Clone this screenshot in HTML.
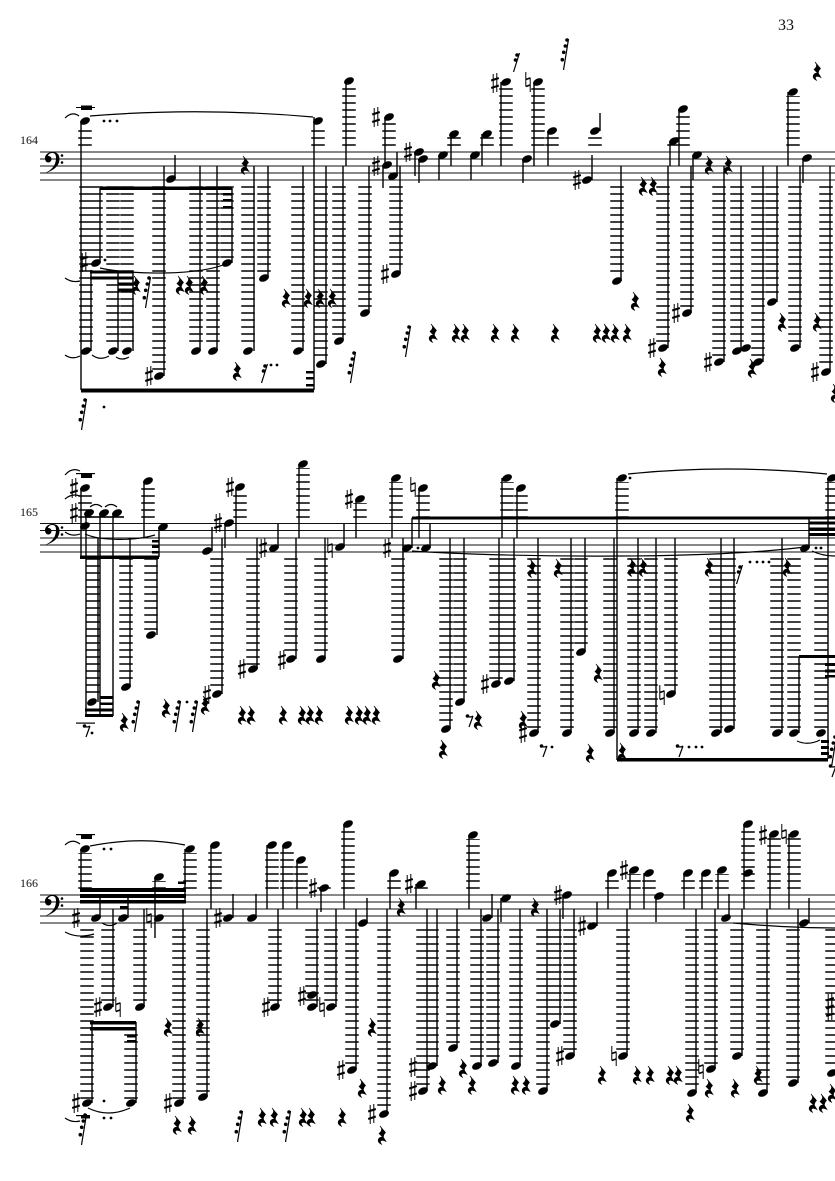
<!DOCTYPE html>
<html><head><meta charset="utf-8"><title>Score page 33</title>
<style>
html,body{margin:0;padding:0;background:#fff}
svg{display:block}
.n{font-family:"Liberation Serif",serif;fill:#111}
.st{stroke:#000;stroke-width:1.4;fill:none}
.lg{stroke:#000;stroke-width:13.5;stroke-dasharray:1.6 5.4;fill:none}
.tie{stroke:#000;stroke-width:1.2;fill:none}
.dot{stroke:#000;stroke-width:2.8;stroke-linecap:round;fill:none}
polyline{fill:none;stroke:none}
.H{marker:url(#h)}.S{marker:url(#s)}.T{marker:url(#t)}.R{marker:url(#r)}.Q{marker:url(#q)}.E{marker:url(#e)}.F{marker:url(#f)}
marker{overflow:visible}
</style></head><body>
<svg xmlns="http://www.w3.org/2000/svg" width="835" height="1181" viewBox="0 0 835 1181">
<defs>
<marker id="h" markerUnits="userSpaceOnUse" markerWidth="1" markerHeight="1"><ellipse rx="5.200" ry="3.400" transform="rotate(-25)" fill="#000"/></marker>
<marker id="s" markerUnits="userSpaceOnUse" markerWidth="1" markerHeight="1"><path d="M-1.800-9V10M1.800-10V9" stroke="#000" stroke-width="1" fill="none"/><path d="M-3.800-2.500L3.800-5M-3.800 5L3.800 2.500" stroke="#000" stroke-width="2.200" fill="none"/></marker>
<marker id="t" markerUnits="userSpaceOnUse" markerWidth="1" markerHeight="1"><path d="M-2.200-10V4.500M2.200-4.500V10" stroke="#000" stroke-width="1" fill="none"/><path d="M-2.200-2.500L2.200-4M-2.200 4.500L2.200 3" stroke="#000" stroke-width="1.600" fill="none"/></marker>
<marker id="r" markerUnits="userSpaceOnUse" markerWidth="1" markerHeight="1"><path d="M-2-9L3.500-2.500Q1 0 1.500 2.500L4 6.500Q0 4.500-1.500 6Q-2 8 0 9.500Q-5 7.500-3.500 4Q-2 1.500 1 2.500L-3-1.500Q0-4-.5-6.500Z" fill="#000" stroke="#000" stroke-width=".6"/></marker>
<marker id="q" markerUnits="userSpaceOnUse" markerWidth="1" markerHeight="1"><path d="M3.500-16L-1.500 15" stroke="#000" stroke-width="1.200" fill="none"/><circle cx="2" cy="-15" r="1.800" fill="#000"/><circle cx=".3" cy="-9" r="1.800" fill="#000"/><circle cx="-1.300" cy="-2.700" r="1.800" fill="#000"/><circle cx="-2.700" cy="4.700" r="1.800" fill="#000"/></marker>
<marker id="e" markerUnits="userSpaceOnUse" markerWidth="1" markerHeight="1"><path d="M3-4L-1 7M-3-4Q0-2 3-4" stroke="#000" stroke-width="1.200" fill="none"/><circle cx="-2.500" cy="-4" r="1.800" fill="#000"/></marker>
<marker id="f" markerUnits="userSpaceOnUse" markerWidth="1" markerHeight="1"><path d="M3.500-9L-2.500 10" stroke="#000" stroke-width="1.200" fill="none"/><circle cx="1" cy="-7" r="1.800" fill="#000"/><circle cx="-.5" cy="-2" r="1.800" fill="#000"/></marker>
<g id="c"><path d="M45 173C52 170 56 165 56 158C56 154 54.500 153 52 153C49.500 153 48 155 48 156C50 156 51.500 157 51.500 159C51.500 161 50 162.500 48.500 162.500C46.500 162.500 45 161 45 158C45 154.500 48.500 152 52.500 152C57 152 59.500 154.500 59.500 159C59.500 166 53 171 45 173Z" fill="#000"/><circle cx="62" cy="155.500" r="1.300" fill="#000"/><circle cx="62" cy="162.500" r="1.300" fill="#000"/></g>
</defs>
<rect width="835" height="1181" fill="#fff"/>
<text class="n" x="778" y="30" font-size="16">33</text>
<text class="n" x="20" y="144" font-size="12">164</text>
<text class="n" x="20" y="516" font-size="12">165</text>
<text class="n" x="20" y="887" font-size="12">166</text>

<!-- staves -->
<g fill="#111">
<rect x="40" y="151.500" width="795" height="1"/><rect x="40" y="158.500" width="795" height="1"/><rect x="40" y="165.500" width="795" height="1"/><rect x="40" y="172.500" width="795" height="1"/><rect x="40" y="179.500" width="795" height="1"/>
<rect x="40" y="523" width="795" height="1"/><rect x="40" y="530" width="795" height="1"/><rect x="40" y="537.500" width="795" height="1"/><rect x="40" y="544.500" width="795" height="1"/><rect x="40" y="551.500" width="795" height="1"/>
<rect x="40" y="894.500" width="795" height="1"/><rect x="40" y="901.500" width="795" height="1"/><rect x="40" y="908.500" width="795" height="1"/><rect x="40" y="915.500" width="795" height="1"/><rect x="40" y="922.500" width="795" height="1"/>
</g>
<use href="#c"/><use href="#c" y="372"/><use href="#c" y="743"/>

<!-- SYSTEM 1 -->
<path class="lg" d="M86 186.200V347M96 186.200V259M113 186.200V347M127 186.200V347M159 186.200V372M196 186.200V347M213 186.200V347M227 186.200V259M248 186.200V347M264 186.200V274M298 186.200V347M321 186.200V360M339 186.200V337M365 186.200V309M396 186.200V270M617 186.200V277M663 186.200V344M687 186.200V309M719 186.200V358M737 186.200V347M758 186.200V358M772 186.200V298M795 186.200V344M826 186.200V368
M85 145.800V125M318 145.800V125M349 145.800V85M389 145.800V121M454 145.800V136M487 145.800V136M506 145.800V86M538 145.800V86M552 145.800V135M595 145.800V135M674 145.800V144M683 145.800V113M793 145.800V96"/>
<path class="st" d="M81 121V390M91 270V351M100 188V263M118 272V351M133 272V351M164 166V376M175 155V179M200 166V351M217 166V351M232 188V263M254 166V351M268 166V278M303 166V351M314 117V390M326 166V364M346 81V166M343 166V341M369 166V313M385 117V166M383 165V188M397 152V176M400 166V274M415 152V176M419 159V183M439 155V180M451 134V166M471 155V180M482 134V166M501 82V166M523 159V183M534 82V166M548 131V166M600 113V131M592 155V180M621 166V281M668 166V348M670 141V166M679 109V166M693 155V180M691 166V313M724 166V362M741 166V351M763 166V362M777 166V302M788 92V166M803 158V183M800 166V348M830 166V372"/>
<g fill="#000">
<rect x="100" y="186.500" width="132" height="3.500"/><rect x="223" y="193" width="9" height="2.500"/><rect x="223" y="199" width="9" height="2.500"/><rect x="223" y="206" width="9" height="2.500"/>
<rect x="90" y="270.500" width="43" height="3"/><rect x="90" y="276.500" width="43" height="3"/><rect x="118" y="282.500" width="15" height="3"/><rect x="118" y="288.500" width="15" height="3"/>
<rect x="81" y="388.500" width="233" height="4"/><rect x="306" y="371" width="8" height="2.500"/><rect x="306" y="377" width="8" height="2.500"/><rect x="306" y="384" width="8" height="2.500"/>
<rect x="81" y="105.500" width="11" height="4.500"/><rect x="76" y="107" width="19" height="1"/>
</g>
<path class="tie" d="M65 118Q72 111 79 116M90 116Q200 107 313 117M65 278Q72 283 80 281M100 268C130 275 200 276 228 263M65 355Q72 360 80 356M92 355Q100 361 109 356M116 357Q122 361 129 357"/>
<path class="dot" d="M104 121h.01M110 121h.01M117 121h.01M105 260h.01M104 407h.01M271 365h.01M277 365h.01"/>
<polyline class="H" points="85,121 96,263 86,351 113,351 127,351 159,376 171,179 196,351 213,351 227,263 248,351 264,278 298,351 318,121 321,364 339,341 349,81 365,313 389,117 387,165 393,176 396,274 419,152 423,159 443,155 454,134 475,155 487,134 506,82 527,159 538,82 552,131 595,131 587,180 617,281 663,348 674,141 683,109 697,155 687,313 719,362 737,351 746,348 758,362 772,302 793,92 807,158 795,348 826,372"/>
<polyline class="S" points="84,262 149,376 376,117 376,166 385,274 408,152 495,83 577,180 652,348 676,313 708,362 815,372"/>
<polyline class="T" points="528,82"/>
<polyline class="R" points="245,165 237,371 136,285 180,285 189,285 204,285 286,298 308,298 320,298 332,298 433,333 456,333 465,333 495,333 515,333 555,333 597,333 606,333 615,333 627,333 635,301 643,186 653,186 662,367 709,165 728,165 752,368 782,322 817,322 817,71 835,393"/>
<polyline class="Q" points="147,293 83,415 352,368 407,342 565,55"/>
<polyline class="F" points="264,373 516,62"/>

<!-- SYSTEM 2 -->
<path class="lg" d="M93 558.200V696M126 558.200V683M151 558.200V631M217 558.200V690M253 558.200V665M291 558.200V655M321 558.200V655M398 558.200V655M446 558.200V725M460 558.200V698M496 558.200V680M509 558.200V677M534 558.200V729M567 558.200V729M581 558.200V648M610 558.200V729M634 558.200V729M651 558.200V729M671 558.200V690M716 558.200V729M729 558.200V725M777 558.200V729M794 558.200V729M821 558.200V729
M85 517.800V492M148 517.800V485M240 517.800V491M303 517.800V468M360 517.800V503M396 517.800V482M423 517.800V492M507 517.800V482M521 517.800V492M622 517.800V482M832 517.800V482"/>
<path class="st" d="M81 488V557M86 513V716M100 513V716M113 513V716M98 538V702M130 538V687M157 558V635M144 481V538M159 527V557M212 527V551M222 538V694M225 523V548M236 487V538M257 538V669M278 524V548M296 538V659M299 464V538M325 538V659M344 524V547M356 499V538M392 478V538M403 538V659M412 518V548M430 524V548M419 488V538M450 538V729M464 538V702M502 478V538M517 488V538M499 538V684M514 538V681M538 538V733M571 538V733M585 538V652M614 538V733M617 478V760M638 538V733M656 538V733M675 538V694M721 538V733M734 538V729M782 538V733M799 657V733M828 478V759M809 518V548"/>
<g fill="#000">
<rect x="85" y="516.200" width="39" height="1.600"/>
<rect x="80" y="555.500" width="79" height="3.500"/><rect x="85" y="714" width="28" height="3"/><rect x="85" y="708.500" width="28" height="3"/><rect x="100" y="702.500" width="13" height="2.500"/><rect x="100" y="696" width="13" height="3"/>
<rect x="152" y="540" width="7" height="2.500"/><rect x="152" y="545.500" width="7" height="2.500"/><rect x="152" y="551" width="7" height="2.500"/>
<rect x="412" y="516.500" width="423" height="3"/><rect x="799" y="655" width="36" height="3"/><rect x="825" y="663" width="10" height="3"/><rect x="825" y="669.500" width="10" height="3"/><rect x="825" y="675" width="10" height="2.500"/>
<rect x="809" y="521.500" width="26" height="3"/><rect x="809" y="527.500" width="26" height="3"/><rect x="809" y="533" width="26" height="3"/>
<rect x="617" y="758" width="211" height="3.500"/><rect x="821" y="740" width="8" height="3"/><rect x="821" y="746" width="8" height="3"/><rect x="821" y="752" width="8" height="3"/>
<rect x="81" y="474" width="11" height="4"/><rect x="76" y="473" width="19" height="1.200"/><rect x="76" y="722.500" width="19" height="1.200"/>
</g>
<path class="tie" d="M65 475Q72 467 80 471M65 499Q72 493 80 496M90 507Q96 502 102 507M105 507Q111 502 117 507M65 532Q72 537 80 534M85 534C100 541 135 541 155 535M412 551C500 557 700 560 805 547M628 474Q725 464 827 474M812 551Q822 556 835 556M797 741Q808 746 820 740"/>
<path class="dot" d="M92 733h.01M187 702h.01M418 548h.01M630 478h.01M816 548h.01M821 548h.01M552 747h.01M689 747h.01M696 747h.01M702 747h.01M750 562h.01M757 562h.01M763 562h.01M769 562h.01"/>
<polyline class="H" points="85,488 89,513 104,513 117,513 85,526 92,702 126,687 151,635 148,481 163,527 207,551 217,694 229,523 240,487 253,669 274,548 291,659 303,464 321,659 340,547 360,499 396,478 398,659 407,548 426,548 423,488 446,729 460,702 507,478 521,488 496,684 509,681 534,733 567,733 581,652 610,733 622,478 634,733 651,733 671,694 716,733 729,729 777,733 794,733 821,733 805,548 832,478"/>
<polyline class="S" points="74,488 74,513 207,695 218,523 230,487 242,669 263,548 282,660 349,499 387,548 485,684 523,733"/>
<polyline class="T" points="330,548 413,487 662,695"/>
<polyline class="R" points="124,722 166,708 205,705 242,715 251,715 283,715 302,715 310,715 319,715 349,715 359,715 367,715 376,715 436,680 443,749 478,720 523,720 532,568 558,568 598,673 590,753 632,567 643,567 709,567 787,567 622,752"/>
<polyline class="Q" points="136,717 177,717 194,717 833,752"/>
<polyline class="E" points="87,730 470,720 544,750 680,750 833,770"/>
<polyline class="F" points="739,574"/>

<!-- SYSTEM 3 -->
<path class="lg" d="M87 929.200V1099M108 929.200V1003M131 1034.200V1099M140 929.200V1003M179 929.200V1099M203 929.200V1093M275 929.200V1003M312 929.200V1003M331 929.200V1003M352 929.200V1066M384 929.200V1110M423 929.200V1087M432 929.200V1062M453 929.200V1044M477 929.200V1062M493 929.200V1059M516 929.200V1062M543 929.200V1087M555 929.200V1020M570 929.200V1052M623 929.200V1052M692 929.200V1089M711 929.200V1065M737 929.200V1052M763 929.200V1089M793 929.200V1079M832 929.200V1069
M85 888.800V853M190 888.800V853M159 888.800V881M215 888.800V849M272 888.800V849M287 888.800V849M301 888.800V864M324 888.800V887M348 888.800V828M394 888.800V877M421 888.800V887M473 888.800V839M612 888.800V877M634 888.800V874M649 888.800V877M688 888.800V877M706 888.800V877M722 888.800V874M748 888.800V828M774 888.800V838M794 888.800V838"/>
<path class="st" d="M81 849V892M185 849V903M155 877V938M100 898V918M128 898V918M113 909V1007M144 909V1007M183 909V1103M207 909V1097M233 894V918M256 894V918M211 845V909M267 845V909M92 1022V1103M136 1022V1103M278 909V1007M283 845V909M297 860V909M321 888V912M317 909V1007M336 909V1007M344 824V909M356 909V1070M367 898V923M387 909V1114M390 873V909M416 884V909M427 909V1091M437 909V1066M457 909V1048M469 835V909M481 909V1066M492 894V918M498 909V1063M501 898V922M520 909V1066M547 909V1091M560 909V1024M563 895V919M574 909V1056M597 902V926M608 873V909M630 870V909M644 873V909M656 896V922M627 909V1056M684 873V909M702 873V909M718 870V909M744 824V909M770 834V909M789 834V909M729 894V918M809 898V923M696 909V1093M715 909V1069M742 909V1056M767 909V1093M798 909V1083"/>
<g fill="#000">
<rect x="80" y="888" width="106" height="4"/><rect x="80" y="894" width="106" height="4"/><rect x="80" y="900" width="106" height="3.500"/><rect x="178" y="881.500" width="8" height="2.500"/><rect x="120" y="906" width="8" height="2.500"/>
<rect x="90" y="1021" width="46" height="3.500"/><rect x="90" y="1027" width="46" height="3.500"/><rect x="127" y="1035" width="9" height="2.500"/><rect x="127" y="1040" width="9" height="2.500"/>
<rect x="81" y="835" width="11" height="4"/><rect x="76" y="834" width="19" height="1.200"/><rect x="81" y="1115" width="9" height="3.500"/><rect x="76" y="1115" width="14" height="1.200"/>
</g>
<path class="tie" d="M65 845Q72 838 80 844M90 846Q140 836 185 845M65 932Q78 939 94 934M102 923Q110 928 117 923M88 1108Q108 1118 130 1108M65 1118Q72 1123 80 1121M733 923Q790 928 835 928"/>
<path class="dot" d="M104 849h.01M111 849h.01M104 1101h.01M104 1118h.01M111 1118h.01"/>
<polyline class="H" points="85,849 190,849 159,877 159,918 96,918 123,918 108,1007 140,1007 179,1103 203,1097 228,918 252,918 215,845 272,845 87,1103 131,1103 275,1007 287,845 301,860 324,888 312,1007 312,995 331,1007 348,824 352,1070 363,923 384,1114 394,873 421,884 423,1091 432,1066 453,1048 473,835 477,1066 487,918 493,1063 506,898 516,1066 543,1091 555,1024 567,895 570,1056 592,926 612,873 634,870 649,873 659,896 623,1056 688,873 706,873 722,870 726,918 748,824 748,873 774,834 794,834 804,923 692,1093 711,1069 737,1056 763,1093 793,1083 832,1073"/>
<polyline class="S" points="76,918 98,1007 76,1103 168,1103 266,1007 218,918 313,888 302,996 341,1070 372,1114 409,884 413,1091 413,1067 558,895 560,1056 582,926 624,870 763,835 830,1003 830,1011"/>
<polyline class="T" points="149,918 118,1007 322,1007 614,1056 701,1069 784,834"/>
<polyline class="R" points="168,1027 200,1027 177,1125 192,1125 262,1117 274,1117 303,1117 311,1117 342,1117 372,1027 362,1088 382,1135 401,907 442,1085 463,1068 472,1085 515,1085 526,1085 535,907 602,1075 637,1075 650,1075 670,1075 678,1075 690,1113 709,1088 735,1088 758,1075 813,1103 823,1103 832,1093"/>
<polyline class="Q" points="83,1130 239,1127 287,1127"/>
</svg>
</body></html>
